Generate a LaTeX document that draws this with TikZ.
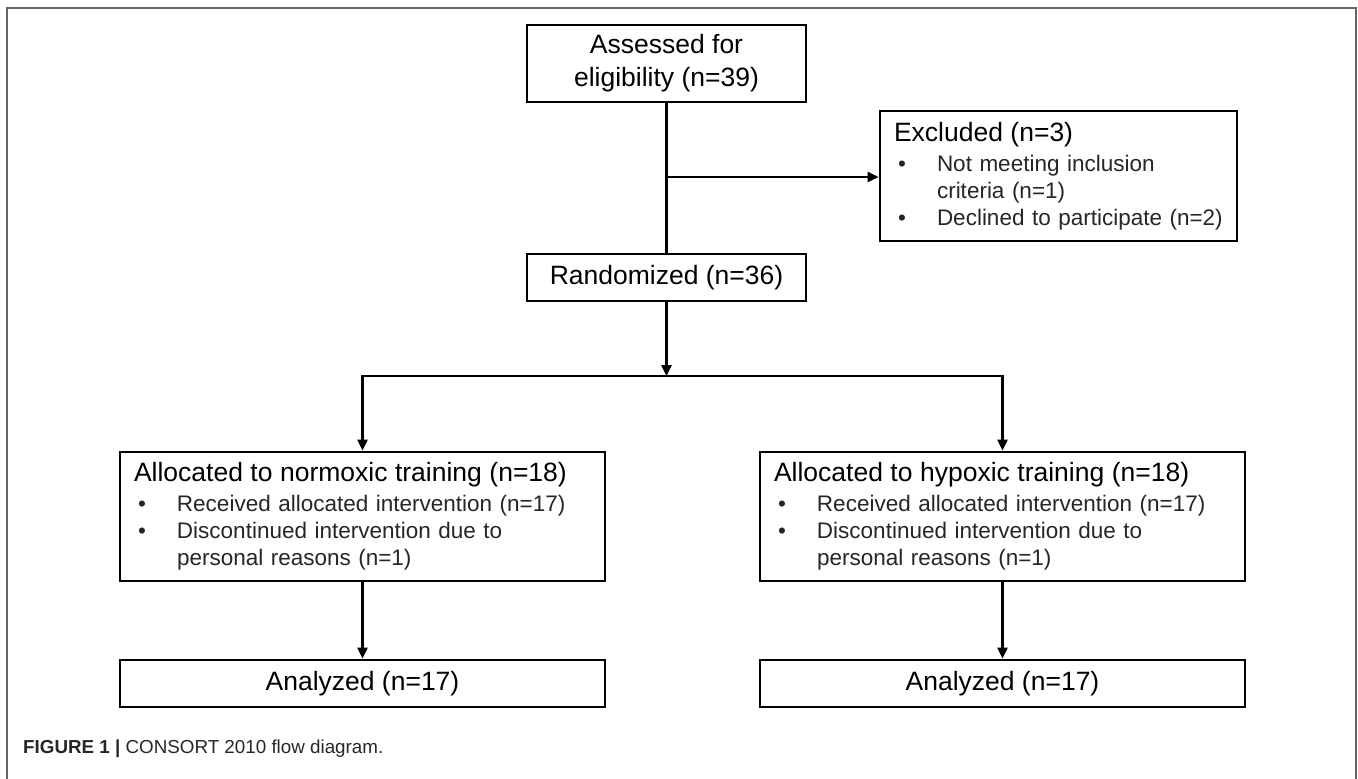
\documentclass[tikz,border=0pt]{standalone}
\usepackage{fontspec}
\setmainfont{Liberation Sans}
\usetikzlibrary{arrows.meta}
\newcommand{\hdtext}[1]{{\fontsize{26.5}{27}\selectfont\color{black}#1}}
\newcommand{\bitemx}[1]{\hspace*{4pt}\makebox[39pt][l]{\textbullet}#1}
\newcommand{\bcontx}[1]{\hspace*{43pt}#1}
\begin{document}
\begin{tikzpicture}[x=1pt,y=-1pt,
  box/.style={draw=black, line width=2.8pt, rectangle, inner sep=0pt, fill=white},
  cbox/.style={box, align=center, font=\fontsize{26.5}{33}\selectfont},
  lbox/.style={box, align=left, inner xsep=14pt, inner ysep=0pt, text=black!85, font=\fontsize{22.5}{27}\selectfont},
  conn/.style={line width=2.5pt, draw=black},
  arr/.style={conn, -{Triangle[length=11pt,width=10pt]}},
  frame/.style={line width=2pt, draw=black!60},
  caption/.style={anchor=base west, inner sep=0pt, text=black!85, font=\fontsize{18.8}{20}\selectfont}
]
\useasboundingbox (0,0) rectangle (1358,779);
\draw[frame] (7,779) -- (7,8) -- (1356,8) -- (1356,779);

\node[cbox, minimum width=279pt, minimum height=77pt] (assess) at (666.5,63.5) {Assessed for\\eligibility (n=39)};
\node[lbox, text width=329pt, minimum width=357pt, minimum height=130pt] (excl) at (1058.5,176)
  {\hdtext{Excluded (n=3)}\\[3pt]
   \bitemx{Not meeting inclusion}\\
   \bcontx{criteria (n=1)}\\
   \bitemx{Declined to participate (n=2)}};
\node[cbox, minimum width=279pt, minimum height=47pt] (rand) at (666.5,277.5) {Randomized (n=36)};

\node[lbox, text width=457pt, minimum width=485pt, minimum height=129pt] (al1) at (362.5,516.5)
  {\hdtext{Allocated to normoxic training (n=18)}\\[3pt]
   \bitemx{Received allocated intervention (n=17)}\\
   \bitemx{Discontinued intervention due to}\\
   \bcontx{personal reasons (n=1)}};
\node[lbox, text width=457pt, minimum width=485pt, minimum height=129pt] (al2) at (1002.5,516.5)
  {\hdtext{Allocated to hypoxic training (n=18)}\\[3pt]
   \bitemx{Received allocated intervention (n=17)}\\
   \bitemx{Discontinued intervention due to}\\
   \bcontx{personal reasons (n=1)}};

\node[cbox, minimum width=485pt, minimum height=47pt] (an1) at (362.5,683.5) {Analyzed (n=17)};
\node[cbox, minimum width=485pt, minimum height=47pt] (an2) at (1002.5,683.5) {Analyzed (n=17)};

\draw[conn] (assess.south) -- (rand.north);
\coordinate (j1) at (666.5,177);
\draw[arr] (j1) -- (j1 -| excl.west);
\coordinate (bc) at (666.5,376);
\draw[arr] (rand.south) -- (bc);
\draw[arr] (bc) -| (al1.north);
\draw[arr] (bc) -| (al2.north);
\draw[arr] (al1.south) -- (an1.north);
\draw[arr] (al2.south) -- (an2.north);

\node[caption] (cap) at (23,753.5) {\textbf{FIGURE 1 |} CONSORT 2010 flow diagram.};
\end{tikzpicture}
\end{document}
